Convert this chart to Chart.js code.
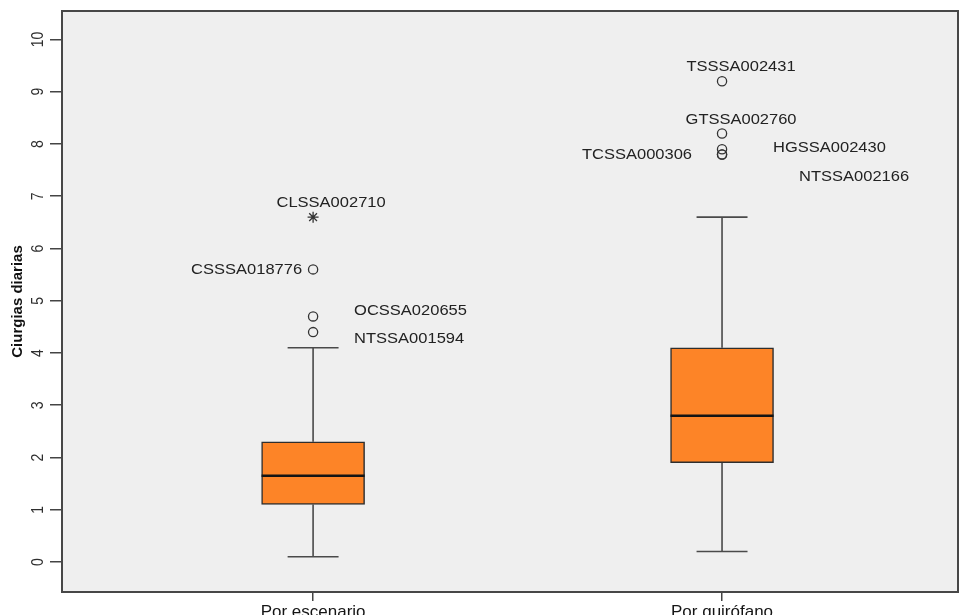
<!DOCTYPE html>
<html>
<head>
<meta charset="utf-8">
<title>Ciurgias diarias</title>
<script src="https://cdn.jsdelivr.net/npm/chart.js@4/dist/chart.umd.min.js"></script>
<style>
  html, body { margin: 0; padding: 0; background: #ffffff; }
  canvas { display: block; }
</style>
</head>
<body>
<canvas id="chart" width="961" height="615"></canvas>
<script>
// Box summaries for each group
const categories = ['Por escenario', 'Por quirófano'];
const positions = [1, 2];
const whiskerLow = [0.1, 0.2];
const q1 = [1.1, 1.9];
const medians = [1.65, 2.8];
const q3 = [2.3, 4.1];
const whiskerHigh = [4.1, 6.6];

// Outlying units (group index, value, kind, identifier)
const outlierGroup = [0, 0, 0, 0, 1, 1, 1, 1, 1];
const outlierValues = [6.6, 5.6, 4.7, 4.4, 9.2, 8.2, 7.9, 7.8, 7.8];
const outlierKind = ['extreme', 'mild', 'mild', 'mild', 'mild', 'mild', 'mild', 'mild', 'mild'];
const outlierIds = ['CLSSA002710', 'CSSSA018776', 'OCSSA020655', 'NTSSA001594',
                    'TSSSA002431', 'GTSSA002760', 'HGSSA002430', 'TCSSA000306', 'NTSSA002166'];

const yTicks = [0, 1, 2, 3, 4, 5, 6, 7, 8, 9, 10];

// Where each identifier sits relative to its marker (pixels)
const labelPlacement = [
  { align: 'center', dx: 18, dy: -14 },
  { align: 'right',  dx: -11, dy: 0 },
  { align: 'left',   dx: 41, dy: -6 },
  { align: 'left',   dx: 41, dy: 7 },
  { align: 'center', dx: 19, dy: -14 },
  { align: 'center', dx: 19, dy: -14 },
  { align: 'left',   dx: 51, dy: -1 },
  { align: 'right',  dx: -30, dy: 0 },
  { align: 'left',   dx: 77, dy: 22 }
];

const FONT = '"Liberation Sans", Arial, Helvetica, sans-serif';
const TEXT_STRETCH = 1.1;     // slightly wide lettering
const CAP_HALF = 0.0623;      // half width of whisker caps, x units
const BOX_HALF = 0.126;       // half width of the boxes, x units
const BOX_PX = 103;           // box width in pixels (matches BOX_HALF)

// Whisker segments, separated by gaps
const whiskerPoints = [];
positions.forEach((p, i) => {
  whiskerPoints.push(
    { x: p, y: q3[i] }, { x: p, y: whiskerHigh[i] }, { x: p, y: null },
    { x: p - CAP_HALF, y: whiskerHigh[i] }, { x: p + CAP_HALF, y: whiskerHigh[i] }, { x: p, y: null },
    { x: p, y: q1[i] }, { x: p, y: whiskerLow[i] }, { x: p, y: null },
    { x: p - CAP_HALF, y: whiskerLow[i] }, { x: p + CAP_HALF, y: whiskerLow[i] }, { x: p, y: null }
  );
});

const medianPoints = [];
positions.forEach((p, i) => {
  medianPoints.push({ x: p - BOX_HALF, y: medians[i] }, { x: p + BOX_HALF, y: medians[i] }, { x: p, y: null });
});

const outlierPoints = outlierValues.map((v, i) => ({ x: positions[outlierGroup[i]], y: v }));

// Grey panel with a dark frame
const panelFrame = {
  id: 'panelFrame',
  beforeDraw(chart) {
    const { ctx, chartArea: a } = chart;
    ctx.save();
    ctx.fillStyle = '#ffffff';
    ctx.fillRect(0, 0, chart.width, chart.height);
    ctx.fillStyle = '#efefef';
    ctx.fillRect(a.left, a.top, a.right - a.left, a.bottom - a.top);
    ctx.restore();
  },
  afterDraw(chart) {
    const { ctx, chartArea: a } = chart;
    ctx.save();
    ctx.strokeStyle = '#474747';
    ctx.lineWidth = 2;
    ctx.strokeRect(a.left, a.top, a.right - a.left, a.bottom - a.top);
    ctx.restore();
  }
};

// Vertical tick labels on the value axis
const yTickText = {
  id: 'yTickText',
  afterDraw(chart) {
    const { ctx } = chart;
    const y = chart.scales.y;
    ctx.save();
    ctx.fillStyle = '#2e2e2e';
    ctx.font = '14px ' + FONT;
    ctx.textAlign = 'center';
    ctx.textBaseline = 'middle';
    y.ticks.forEach(t => {
      ctx.save();
      ctx.translate(39, y.getPixelForValue(t.value));
      ctx.scale(1.12, 1);
      ctx.rotate(-Math.PI / 2);
      ctx.fillText(String(t.value), 0, 0);
      ctx.restore();
    });
    ctx.restore();
  }
};

// Identifiers next to the outlying markers
const outlierText = {
  id: 'outlierText',
  afterDatasetsDraw(chart) {
    const { ctx } = chart;
    const xs = chart.scales.x, ys = chart.scales.y;
    ctx.save();
    ctx.fillStyle = '#222222';
    ctx.font = '15px ' + FONT;
    ctx.textBaseline = 'middle';
    outlierIds.forEach((id, i) => {
      const p = labelPlacement[i];
      const px = xs.getPixelForValue(positions[outlierGroup[i]]) + p.dx;
      const py = ys.getPixelForValue(outlierValues[i]) + p.dy;
      ctx.save();
      ctx.translate(px, py);
      ctx.scale(TEXT_STRETCH, 1);
      ctx.textAlign = p.align;
      ctx.fillText(id, 0, 0);
      ctx.restore();
    });
    ctx.restore();
  }
};

Chart.defaults.font.family = FONT;

new Chart(document.getElementById('chart'), {
  type: 'line',
  data: {
    datasets: [
      {
        type: 'bar',
        data: positions.map((p, i) => ({ x: p, y: [q1[i], q3[i]] })),
        backgroundColor: '#fd8427',
        borderColor: '#2e2e2e',
        borderWidth: 1.5,
        borderSkipped: false,
        barThickness: BOX_PX,
        order: 3
      },
      {
        data: whiskerPoints,
        borderColor: '#4a4a4a',
        borderWidth: 1.6,
        pointRadius: 0,
        spanGaps: false,
        fill: false,
        order: 4
      },
      {
        data: medianPoints,
        borderColor: '#141414',
        borderWidth: 2.6,
        pointRadius: 0,
        spanGaps: false,
        fill: false,
        order: 1
      },
      {
        data: outlierPoints,
        showLine: false,
        pointStyle: outlierKind.map(k => k === 'extreme' ? 'star' : 'circle'),
        pointRadius: outlierKind.map(k => k === 'extreme' ? 5.5 : 4.6),
        pointBorderWidth: 1.3,
        pointBorderColor: '#333333',
        pointBackgroundColor: 'rgba(0,0,0,0)',
        order: 2
      }
    ]
  },
  options: {
    responsive: false,
    devicePixelRatio: 1,
    animation: false,
    events: [],
    layout: { autoPadding: false, padding: { top: 11, right: 3, left: 0, bottom: 0 } },
    plugins: {
      legend: { display: false },
      tooltip: { enabled: false }
    },
    scales: {
      x: {
        type: 'linear',
        min: 0.386,
        max: 2.577,
        offset: false,
        afterBuildTicks: s => { s.ticks = positions.map(v => ({ value: v })); },
        ticks: {
          callback: (v, i) => categories[i],
          font: { size: 17 },
          color: '#151515',
          padding: 1,
          maxRotation: 0,
          minRotation: 0,
          autoSkip: false
        },
        grid: { drawOnChartArea: false, offset: false, tickLength: 9, color: '#444444', lineWidth: 1.5 },
        border: { display: false },
        afterFit: s => { s.height = 23; }
      },
      y: {
        min: -0.574,
        max: 10.545,
        afterBuildTicks: s => { s.ticks = yTicks.map(v => ({ value: v })); },
        ticks: { display: false },
        grid: { drawOnChartArea: false, tickLength: 12, color: '#444444', lineWidth: 1.5 },
        border: { display: false },
        title: {
          display: true,
          text: 'Ciurgias diarias',
          font: { size: 15, weight: 'bold' },
          color: '#111111',
          padding: { top: 9, bottom: 0 }
        },
        afterFit: s => { s.width = 62; }
      }
    }
  },
  plugins: [panelFrame, yTickText, outlierText]
});
</script>
</body>
</html>
